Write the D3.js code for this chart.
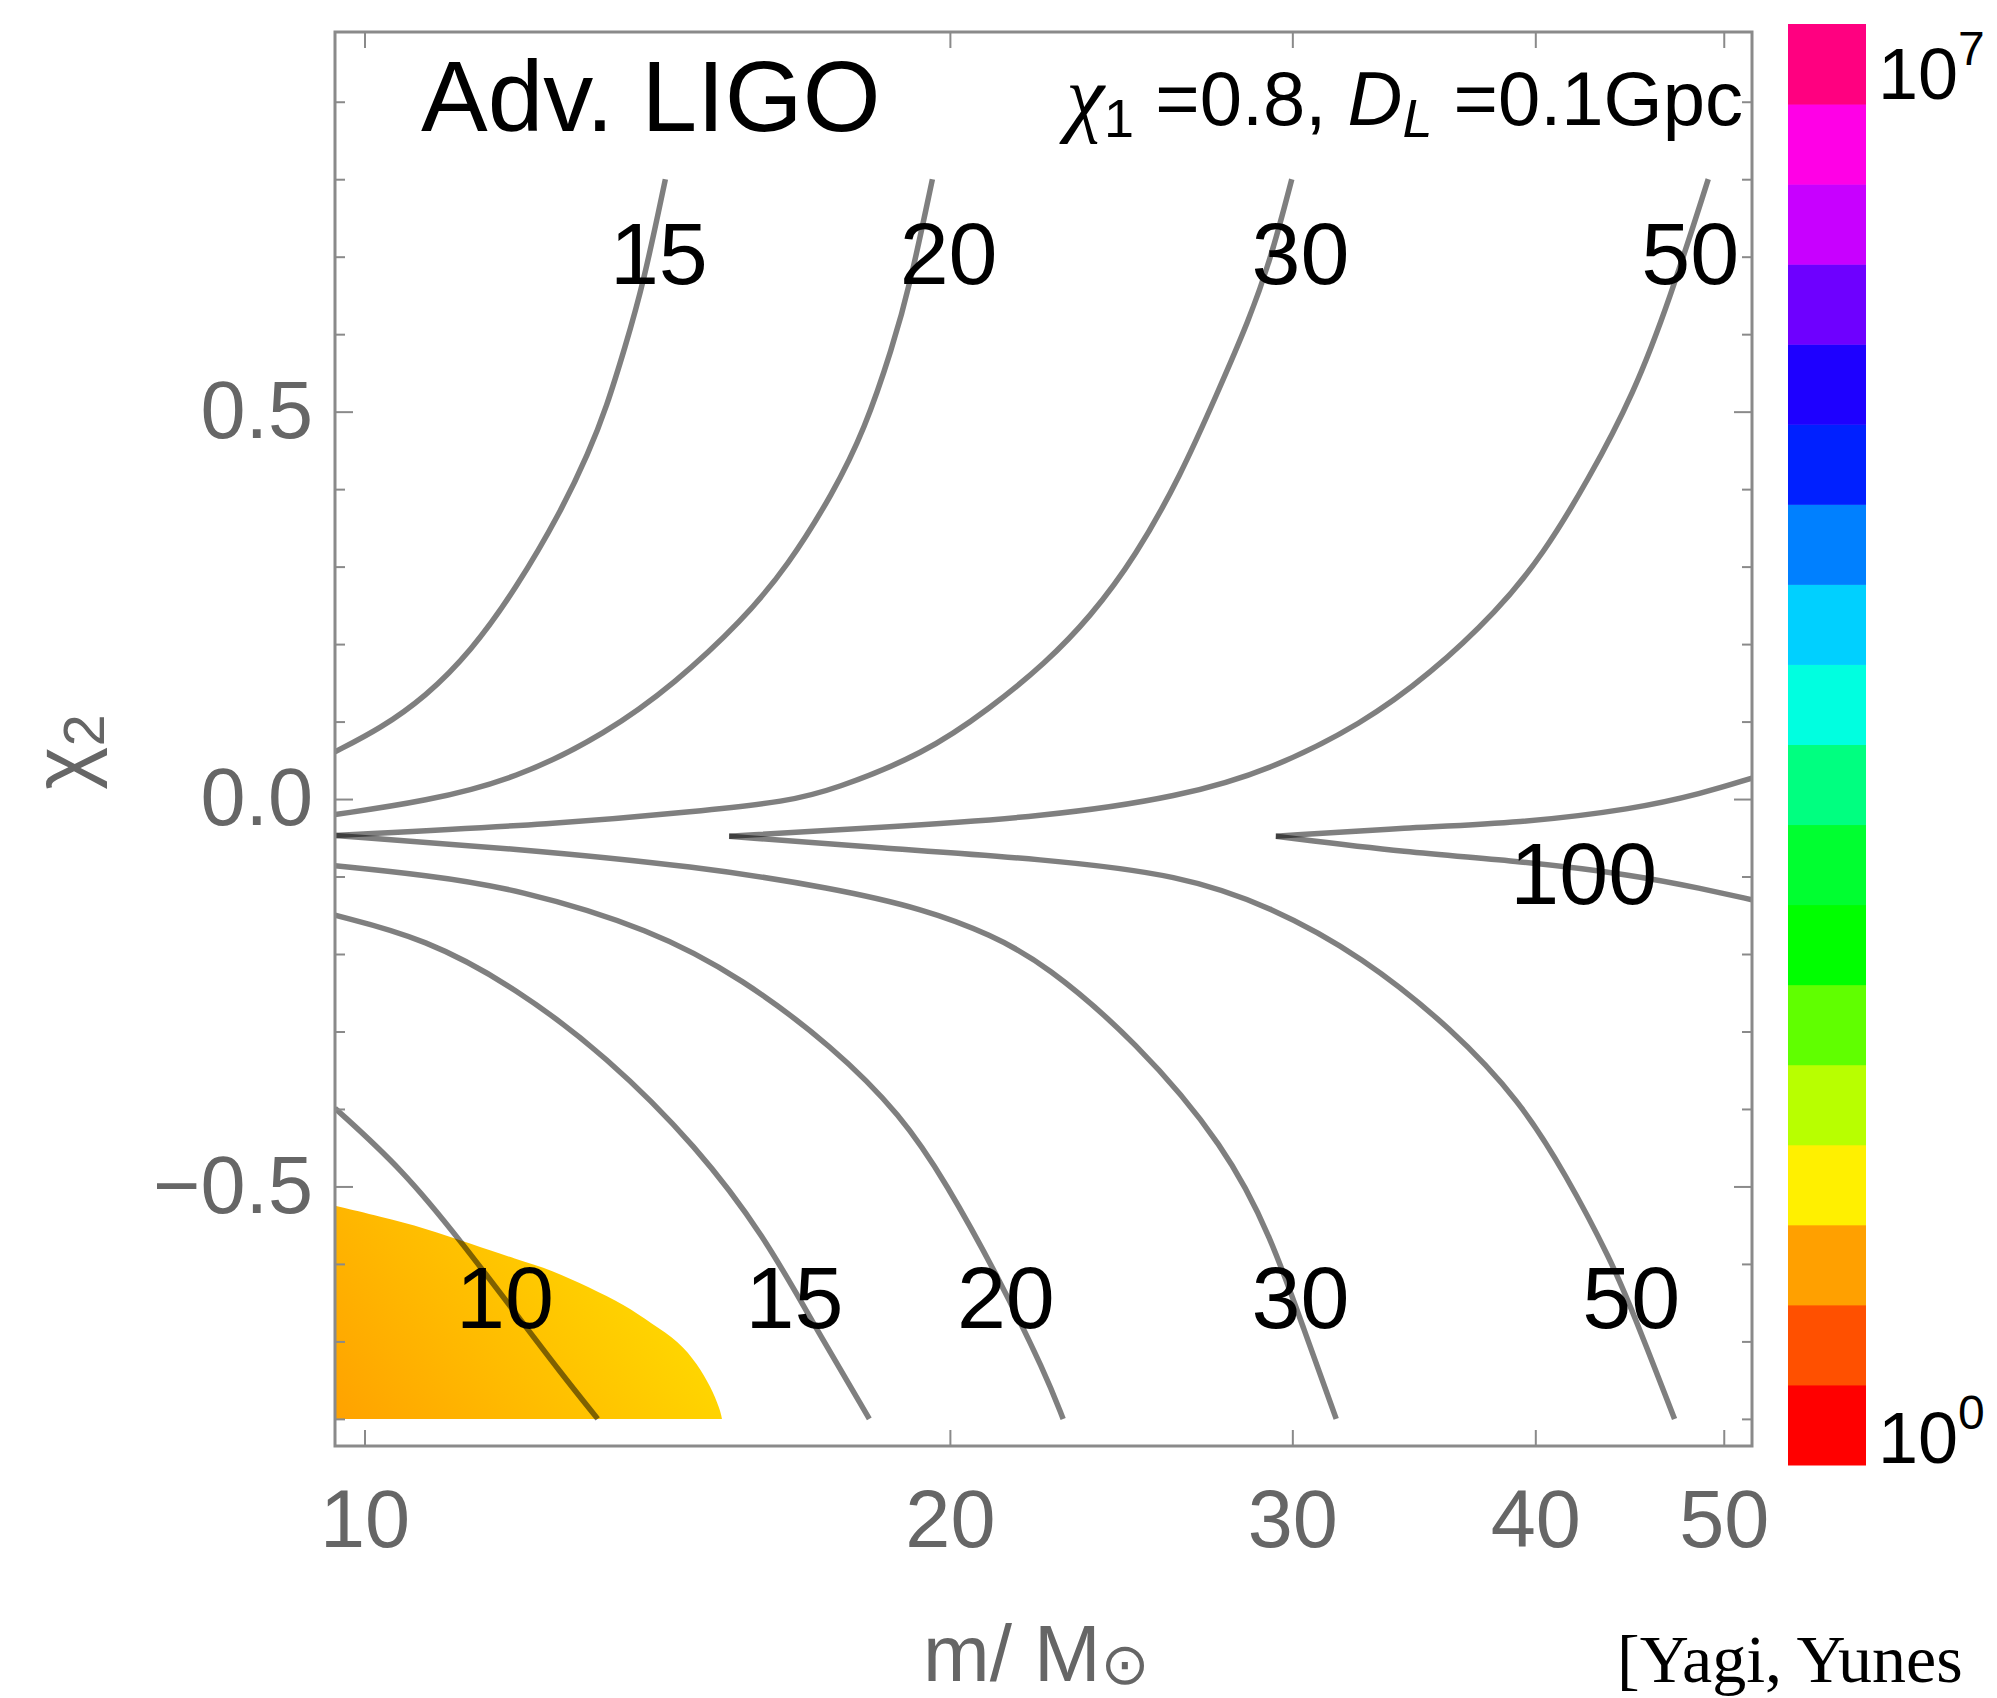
<!DOCTYPE html>
<html><head><meta charset="utf-8">
<script src="https://cdn.jsdelivr.net/npm/d3@7"></script>
<style>html,body{margin:0;padding:0;background:#fff}svg{display:block}</style>
</head><body>
<svg id="chart" width="1997" height="1698"></svg>
<script>
// ---------------- data ----------------
const massTicks = [10, 20, 30, 40, 50];
const massTickLabels = ["10", "20", "30", "40", "50"];
const spinMajorTicks = [-0.5, 0, 0.5];
const spinTickLabels = ["\u22120.5", "0.0", "0.5"];
const spinMinorTicks = [-0.8, -0.7, -0.6, -0.4, -0.3, -0.2, -0.1, 0.1, 0.2, 0.3, 0.4, 0.6, 0.7, 0.8, 0.9];
const massDomain = [9.657, 51.7];
const spinDomain = [-0.835, 0.99];

// contour branches, points are [m / Msun, chi2]
const contour10 = [[9.657,-0.399],[10.46,-0.478],[11.22,-0.572],[11.97,-0.665],[12.62,-0.741],[13.18,-0.800]];
const contour15Upper = [[9.657,0.061],[10.19,0.091],[10.75,0.132],[11.34,0.190],[11.97,0.272],[12.62,0.371],[13.04,0.447],[13.32,0.506],[13.61,0.582],[13.91,0.664],[14.28,0.800]];
const contour15Lower = [[9.657,-0.150],[10.75,-0.180],[11.97,-0.244],[13.32,-0.332],[14.83,-0.449],[16.07,-0.566],[16.96,-0.671],[18.18,-0.800]];
const contour20Upper = [[9.657,-0.020],[10.75,-0.003],[11.97,0.026],[13.32,0.085],[14.44,0.149],[15.65,0.231],[16.51,0.301],[17.42,0.395],[18.08,0.477],[18.68,0.582],[19.08,0.664],[19.59,0.800]];
const contour20Lower = [[9.657,-0.086],[10.75,-0.098],[11.97,-0.1155],[14.05,-0.168],[15.65,-0.232],[17.42,-0.320],[18.88,-0.408],[19.91,-0.495],[21.21,-0.620],[22.39,-0.741],[22.87,-0.800]];
const contour30Upper = [[9.657,-0.047],[12.62,-0.032],[14.83,-0.016],[16.51,-0.003],[17.42,0.012],[19.40,0.058],[21.0,0.118],[22.39,0.175],[23.62,0.235],[24.92,0.313],[26.29,0.418],[27.44,0.523],[28.49,0.617],[29.26,0.699],[29.98,0.800]];
const contour30Lower = [[9.657,-0.047],[11.97,-0.064],[14.83,-0.087],[17.42,-0.115],[19.40,-0.142],[21.0,-0.175],[22.39,-0.213],[24.92,-0.312],[27.73,-0.449],[29.26,-0.566],[30.4,-0.683],[31.6,-0.800]];
const contour50Upper = [[15.40,-0.048],[18.38,-0.037],[22.39,-0.023],[26.29,0.003],[29.26,0.038],[32.58,0.097],[35.31,0.161],[38.25,0.243],[40.36,0.315],[42.59,0.412],[44.95,0.523],[46.92,0.646],[49.09,0.800]];
const contour50Lower = [[15.40,-0.048],[18.38,-0.063],[22.39,-0.0775],[26.29,-0.098],[29.26,-0.139],[32.58,-0.203],[36.27,-0.297],[39.29,-0.390],[41.46,-0.484],[43.75,-0.595],[44.95,-0.665],[47.17,-0.800]];
const contour100Upper = [[29.42,-0.048],[34.37,-0.037],[39.29,-0.031],[44.95,-0.013],[48.70,0.007],[51.7,0.027]];
const contour100Lower = [[29.42,-0.048],[34.37,-0.069],[39.29,-0.080],[44.95,-0.098],[48.70,-0.1155],[51.7,-0.130]];
const contourBranches = [contour10, contour15Upper, contour15Lower, contour20Upper, contour20Lower,
  contour30Upper, contour30Lower, contour50Upper, contour50Lower, contour100Upper, contour100Lower];

// contour label anchors [m, chi2]
const contourLabelText = ["15", "20", "30", "50", "10", "15", "20", "30", "50", "100"];
const contourLabelMass = [14.17, 19.97, 30.29, 48.05, 11.81, 16.64, 21.37, 30.29, 44.81, 42.36];
const contourLabelSpin = [0.705, 0.705, 0.705, 0.705, -0.642, -0.642, -0.642, -0.642, -0.642, -0.095];

// shaded region: corner + curved edge [m, chi2]
const regionCorner = [9.657, -0.800];
const regionEdge = [[9.657,-0.525],[10.19,-0.539],[10.75,-0.554],[11.34,-0.574],[11.97,-0.594],[12.49,-0.608],[13.04,-0.630],[13.61,-0.653],[14.05,-0.677],[14.51,-0.700],[14.83,-0.729],[15.07,-0.759],[15.23,-0.787],[15.27,-0.800]];

// colour bar (bottom -> top), log range
const colorbarColors = ["#ff0000","#ff5000","#ffa000","#fff000","#b8ff00","#60ff00","#00ff00","#00ff30","#00ff80","#00ffe0","#00d0ff","#0080ff","#0020ff","#1e00ff","#6e00ff","#c800ff","#ff00e6","#ff0080"];
const colorbarRange = [1, 1e7];
const colorbarLabelExp = ["0", "7"];

const titleText = "Adv. LIGO";
const xLabelMain = "m/ M";
const xLabelSub = "\u2299";
const yLabelMain = "\u03c7";
const yLabelSub = "2";
const citeText = "[Yagi, Yunes";

// ---------------- drawing ----------------
const svg = d3.select("#chart");
const L = 335, R = 1752, T = 32, B = 1446;
const axisGray = "#8a8a8a", labelGray = "#666666";
const sans = "'Liberation Sans', Arial, Helvetica, sans-serif";

const x = d3.scaleLog().domain(massDomain).range([L, R]);
const y = d3.scaleLinear().domain(spinDomain).range([B, T]);

const defs = svg.append("defs");
defs.append("clipPath").attr("id","plotClip")
  .append("rect").attr("x",L).attr("y",T).attr("width",R-L).attr("height",B-T);

const grad = defs.append("linearGradient").attr("id","regionGrad")
  .attr("gradientUnits","userSpaceOnUse")
  .attr("x1", x(9.657)).attr("y1", y(-0.8)).attr("x2", x(15.0)).attr("y2", y(-0.45));
grad.append("stop").attr("offset","0").attr("stop-color","#ffa200");
grad.append("stop").attr("offset","0.75").attr("stop-color","#ffd800");
grad.append("stop").attr("offset","1").attr("stop-color","#ffe400");

const plot = svg.append("g").attr("clip-path","url(#plotClip)");

// shaded region
const edgePath = d3.line().x(d=>x(d[0])).y(d=>y(d[1])).curve(d3.curveBasis)(regionEdge);
plot.append("path")
  .attr("d", edgePath + `L${x(regionCorner[0])},${y(regionCorner[1])}Z`)
  .attr("fill","url(#regionGrad)");

// contours
const cline = d3.line().x(d=>x(d[0])).y(d=>y(d[1])).curve(d3.curveBasis);
plot.selectAll("path.contour").data(contourBranches).join("path")
  .attr("class","contour")
  .attr("d", cline)
  .attr("fill","none")
  .attr("stroke","#000")
  .attr("stroke-opacity",0.5)
  .attr("stroke-width",5.5);

// contour labels
svg.append("g").selectAll("text").data(contourLabelText).join("text")
  .attr("x", (d,i)=>x(contourLabelMass[i]))
  .attr("y", (d,i)=>y(contourLabelSpin[i]))
  .attr("dy","0.36em")
  .attr("text-anchor","middle")
  .attr("font-family", sans)
  .attr("font-size", 88)
  .attr("fill","#000")
  .text(d=>d);

// frame
svg.append("rect").attr("x",L).attr("y",T).attr("width",R-L).attr("height",B-T)
  .attr("fill","none").attr("stroke",axisGray).attr("stroke-width",3);

function styleAxis(g){
  g.select(".domain").remove();
  g.selectAll(".tick line").attr("stroke",axisGray).attr("stroke-width",2);
  g.attr("font-family", sans).attr("font-size", 81);
  g.selectAll(".tick text").attr("fill", labelGray);
}
// bottom
svg.append("g").attr("transform",`translate(0,${B})`)
  .call(d3.axisBottom(x).tickValues(massTicks).tickFormat((d,i)=>massTickLabels[i])
    .tickSizeInner(-16).tickSizeOuter(0).tickPadding(43)).call(styleAxis);
// top
svg.append("g").attr("transform",`translate(0,${T})`)
  .call(d3.axisTop(x).tickValues(massTicks).tickFormat("")
    .tickSizeInner(-16).tickSizeOuter(0)).call(styleAxis);
// left
svg.append("g").attr("transform",`translate(${L},0)`)
  .call(d3.axisLeft(y).tickValues(spinMajorTicks).tickFormat((d,i)=>spinTickLabels[i])
    .tickSizeInner(-18).tickSizeOuter(0).tickPadding(22)).call(styleAxis);
svg.append("g").attr("transform",`translate(${L},0)`)
  .call(d3.axisLeft(y).tickValues(spinMinorTicks).tickFormat("")
    .tickSizeInner(-10).tickSizeOuter(0)).call(styleAxis);
// right
svg.append("g").attr("transform",`translate(${R},0)`)
  .call(d3.axisRight(y).tickValues(spinMajorTicks).tickFormat("")
    .tickSizeInner(-18).tickSizeOuter(0)).call(styleAxis);
svg.append("g").attr("transform",`translate(${R},0)`)
  .call(d3.axisRight(y).tickValues(spinMinorTicks).tickFormat("")
    .tickSizeInner(-10).tickSizeOuter(0)).call(styleAxis);

// axis labels
const xl = svg.append("text").attr("x",923).attr("y",1681)
  .attr("font-family",sans).attr("font-size",80).attr("fill",labelGray);
xl.append("tspan").text(xLabelMain);
xl.append("tspan").attr("font-size",58).attr("dy",3).attr("font-family","'DejaVu Sans', sans-serif").text(xLabelSub);

const yl = svg.append("text").attr("transform","translate(90,752) rotate(-90)")
  .attr("text-anchor","middle")
  .attr("font-family",sans).attr("font-size",82).attr("fill",labelGray);
yl.append("tspan").text(yLabelMain);
yl.append("tspan").attr("font-size",58).attr("dy",14).text(yLabelSub);

// titles
svg.append("text").attr("x",421).attr("y",131)
  .attr("font-family",sans).attr("font-size",100).attr("fill","#000").text(titleText);

const rt = svg.append("text").attr("x",1743).attr("y",125).attr("text-anchor","end")
  .attr("font-family",sans).attr("font-size",76).attr("fill","#000");
rt.append("tspan").attr("font-style","italic").attr("font-family","'Liberation Serif', serif").attr("font-size",86).text("\u03c7");
rt.append("tspan").attr("font-size",54).attr("dy",12).text("1");
rt.append("tspan").attr("dy",-12).text(" =0.8, ");
rt.append("tspan").attr("font-style","italic").text("D");
rt.append("tspan").attr("font-style","italic").attr("font-size",54).attr("dy",12).text("L");
rt.append("tspan").attr("dy",-12).text(" =0.1Gpc");

// colour bar
const cb = d3.scaleLog().domain(colorbarRange).range([1465, 24]);
const nb = colorbarColors.length;
const bandEdge = i => Math.pow(10, Math.log10(colorbarRange[1]) * i / nb);
svg.append("g").selectAll("rect").data(colorbarColors).join("rect")
  .attr("x",1788).attr("width",78)
  .attr("y",(d,i)=>cb(bandEdge(i+1)))
  .attr("height",(d,i)=>cb(bandEdge(i)) - cb(bandEdge(i+1)) + 0.5)
  .attr("fill",d=>d);

const cbLab = svg.append("g").attr("font-family",sans).attr("font-size",72).attr("fill","#000");
const lab7 = cbLab.append("text").attr("x",1878).attr("y",cb(colorbarRange[1]) + 75);
lab7.append("tspan").text("10");
lab7.append("tspan").attr("font-size",48).attr("dy",-34).text(colorbarLabelExp[1]);
const lab0 = cbLab.append("text").attr("x",1878).attr("y",cb(colorbarRange[0]) - 2);
lab0.append("tspan").text("10");
lab0.append("tspan").attr("font-size",48).attr("dy",-34).text(colorbarLabelExp[0]);

// citation at the bottom-right corner, kept fully inside the page
svg.append("text").attr("x",1617).attr("y",1682)
  .attr("font-family","'Liberation Serif', 'Times New Roman', serif").attr("font-size",68).attr("fill","#000")
  .text(citeText);
</script>
</body></html>
